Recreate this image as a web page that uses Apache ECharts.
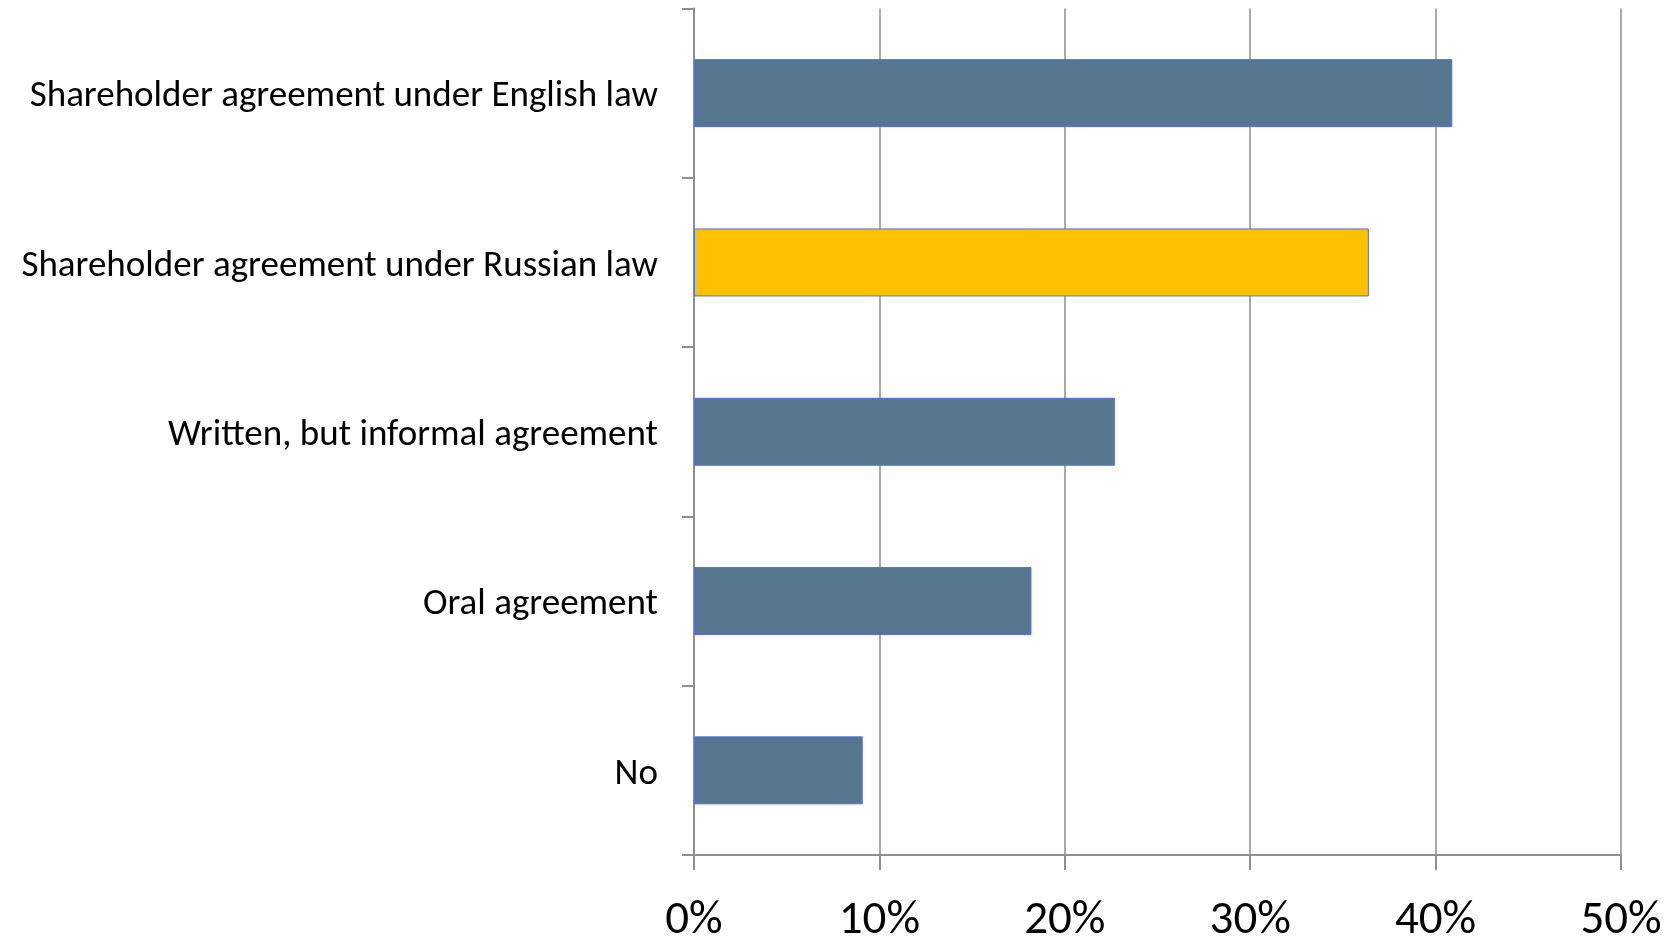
<!DOCTYPE html>
<html>
<head>
<meta charset="utf-8">
<script src="https://cdn.jsdelivr.net/npm/echarts@6/dist/echarts.min.js"></script>
<style>
  html, body { margin: 0; padding: 0; background: #ffffff; }
  #chart { width: 1673px; height: 939px; }
</style>
</head>
<body>
<div id="chart"></div>
<script>
// Survey answers, top to bottom
const categories = [
  'Shareholder agreement under English law',
  'Shareholder agreement under Russian law',
  'Written, but informal agreement',
  'Oral agreement',
  'No'
];
// Share of respondents, percent
const shares = [40.9, 36.4, 22.7, 18.2, 9.1];
// Value axis range and step, percent
const axisMin = 0;
const axisMax = 50;
const axisStep = 10;
// The answer drawn in the accent colour
const highlighted = 'Shareholder agreement under Russian law';

const FONT = 'Carlito, Calibri, Lato, "Open Sans", sans-serif';
const BLUE = '#57768F';
const GOLD = '#FFC000';
const GRID_GREY = '#8E8E8E';

const chart = echarts.init(document.getElementById('chart'), null, { renderer: 'canvas' });

chart.setOption({
  backgroundColor: '#ffffff',
  animation: false,
  grid: {
    left: 694, right: 52, top: 8.5, bottom: 84,
    containLabel: false,
    outerBoundsMode: 'none'
  },
  xAxis: {
    type: 'value',
    min: axisMin,
    max: axisMax,
    interval: axisStep,
    axisLine: { show: true, lineStyle: { color: GRID_GREY, width: 2 } },
    axisTick: { show: true, length: 15, lineStyle: { color: GRID_GREY, width: 2 } },
    splitLine: { show: true, lineStyle: { color: GRID_GREY, width: 1.5 } },
    axisLabel: {
      formatter: v => v + '%',
      color: '#000000',
      fontFamily: FONT,
      fontSize: 47,
      margin: 43
    }
  },
  yAxis: {
    type: 'category',
    inverse: true,
    data: categories,
    axisLine: { show: true, lineStyle: { color: GRID_GREY, width: 2 } },
    axisTick: { show: true, length: 12, lineStyle: { color: GRID_GREY, width: 2 } },
    splitLine: { show: false },
    axisLabel: {
      color: '#000000',
      fontFamily: FONT,
      fontSize: 37,
      margin: 36,
      verticalAlign: 'top',
      lineHeight: 8
    }
  },
  series: [{
    type: 'bar',
    data: shares,
    barWidth: 68,
    itemStyle: {
      color: p => (categories[p.dataIndex] === highlighted ? GOLD : BLUE),
      borderColor: p => (categories[p.dataIndex] === highlighted ? GOLD : '#C4D2E0'),
      borderWidth: 1
    }
  }]
});
</script>
</body>
</html>
